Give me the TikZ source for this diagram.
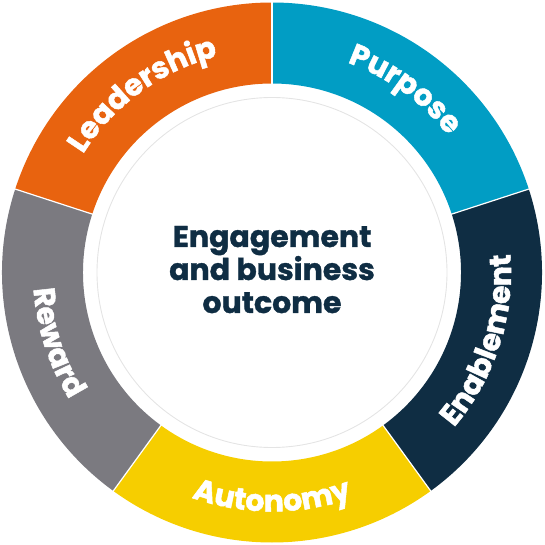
\documentclass[tikz,border=0pt]{standalone}
\usepackage{fontspec}
\setmainfont{Poppins}
\newfontfamily\heavyfont{Poppins}[UprightFont=*-Bold, FakeBold=1.6]
\newfontfamily\centrefont{Poppins}[UprightFont=*-Bold, FakeBold=1.2]
\usetikzlibrary{decorations.text}
\definecolor{cOrange}{HTML}{E8630F}
\definecolor{cBlue}{HTML}{019DC4}
\definecolor{cNavy}{HTML}{0F2D43}
\definecolor{cYellow}{HTML}{F6CE00}
\definecolor{cGrey}{HTML}{7B7A80}
\definecolor{cText}{HTML}{0F2D43}
\definecolor{cRing}{HTML}{E4E4E4}
\newcommand{\ringseg}[3]{\fill[#3] (#1:270pt) arc[start angle=#1, end angle=#2, radius=270pt] -- (#2:189pt) arc[start angle=#2, end angle=#1, radius=189pt] -- cycle;}
\newcommand{\lblfont}{\heavyfont\fontsize{30}{30}\selectfont}
\tikzset{
  ctext/.style={anchor=base, font=\centrefont\fontsize{30}{30}\selectfont, text=cText, inner sep=0pt},
  seplines/.style={draw=white, line width=1.2pt},
  lbl/.style={decorate, decoration={text along path, text align=center, text color=white, text={|\lblfont|#1}}}
}
\begin{document}
\begin{tikzpicture}
\useasboundingbox (-272pt,-272.5pt) rectangle (272pt,272.5pt);
\ringseg{90}{162}{cOrange}
\ringseg{18}{90}{cBlue}
\ringseg{-54}{18}{cNavy}
\ringseg{-126}{-54}{cYellow}
\ringseg{162}{234}{cGrey}
\foreach \a in {90,18,-54,-126,162} \draw[seplines] (\a:188pt) -- (\a:271pt);
\draw[cRing, line width=0.9pt] (0,0) circle[radius=175pt];
% labels
\path[lbl=Leadership] (176:223pt) arc[start angle=176, end angle=76, radius=223pt];
\path[lbl=Purpose] (104:223pt) arc[start angle=104, end angle=4, radius=223pt];
\path[lbl=Enablement] (-68:239pt) arc[start angle=-68, end angle=32, radius=239pt];
\path[lbl=Autonomy] (-140:239pt) arc[start angle=-140, end angle=-40, radius=239pt];
\path[lbl=Reward] (148:239pt) arc[start angle=148, end angle=248, radius=239pt];
% centre
\node[ctext] (l1) at (0pt,25.5pt) {Engagement};
\node[ctext] (l2) at (0pt,-7.5pt) {and business};
\node[ctext] (l3) at (0pt,-40.5pt) {outcome};
\end{tikzpicture}
\end{document}
